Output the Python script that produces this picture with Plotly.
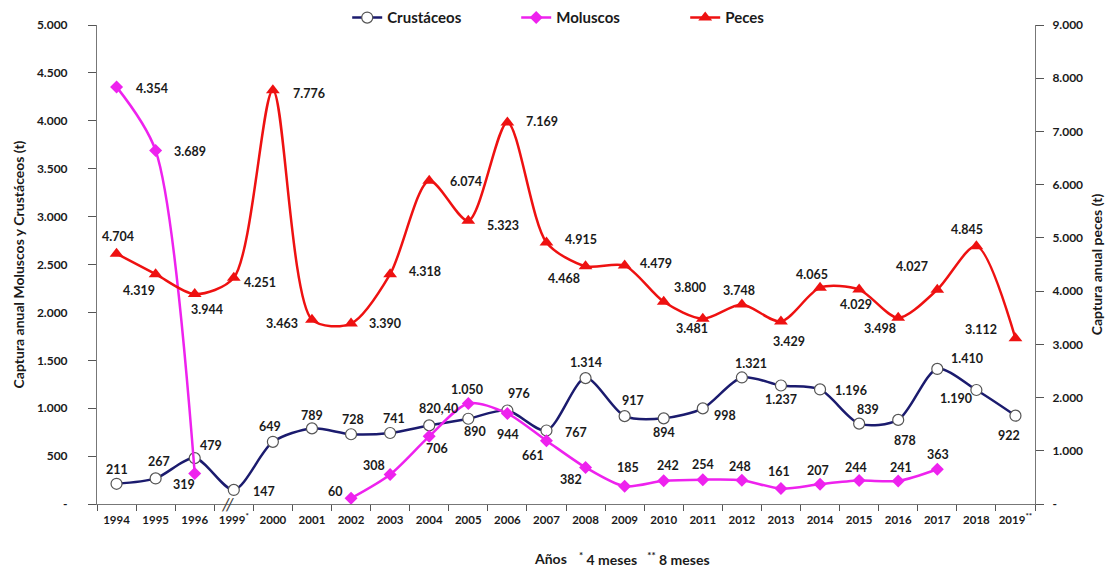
import plotly.graph_objects as go

years = ["1994", "1995", "1996", "1999<sup>*</sup>", "2000", "2001", "2002", "2003", "2004",
         "2005", "2006", "2007", "2008", "2009", "2010", "2011", "2012", "2013", "2014",
         "2015", "2016", "2017", "2018", "2019<sup>**</sup>"]

crustaceos = [211, 267, 479, 147, 649, 789, 728, 741, 820.40, 890, 976, 767, 1314, 917,
              894, 998, 1321, 1237, 1196, 839, 878, 1410, 1190, 922]
moluscos = [4354, 3689, 319, None, None, None, 60, 308, 706, 1050, 944, 661, 382, 185,
            242, 254, 248, 161, 207, 244, 241, 363, None, None]
peces = [4704, 4319, 3944, 4251, 7776, 3463, 3390, 4318, 6074, 5323, 7169, 4915, 4468,
         4479, 3800, 3481, 3748, 3429, 4065, 4029, 3498, 4027, 4845, 3112]

left_ticks = [0, 500, 1000, 1500, 2000, 2500, 3000, 3500, 4000, 4500, 5000]
right_ticks = [0, 1000, 2000, 3000, 4000, 5000, 6000, 7000, 8000, 9000]

# label offsets in pixels (dx right, dy down) of the label centre from its point
crus_off = [(0, -14), (3, -17), (16, -13), (30, 2), (-3, -15), (0, -13), (2, -15), (4, -15),
            (9, -17), (7, 13), (12, -17), (30, 2), (0, -16), (8, -16), (0, 14), (22, 7),
            (9, -14), (0, 14), (31, 1), (9, -14), (7, 21), (30, -10), (-20, 8), (-6, 20)]
mol_off = [(35, 2), (34, 1), (-11, 11), None, None, None, (-16, -7), (-16, -9),
           (8, 12), (-1, -14), (1, 21), (-13, 15), (-15, 12), (3, -19), (4, -15), (0, -15),
           (-2, -14), (-2, -17), (-2, -14), (-3, -13), (3, -13), (1, -15), None, None]
pec_off = [(1, -17), (-17, 16), (12, 15), (26, 5), (36, 3), (-30, 4), (34, 0), (35, -3),
           (37, 1), (35, 5), (35, -1), (35, -3), (-22, 12), (31, -2), (26, -14), (-11, 10),
           (-3, -14), (8, 20), (-8, -13), (-3, 15), (-18, 11), (-25, -23), (-9, -17), (-34, -9)]


def fmt(v):
    if v is None:
        return ""
    if v == 0:
        return "-"
    if float(v).is_integer():
        return f"{int(v):,}".replace(",", ".")
    return f"{v:.2f}".replace(".", ",")


FONT = "Lato"
lab_font = dict(family=FONT, size=12.5, color="#1a1a1a", weight="bold")

fig = go.Figure()
fig.add_trace(go.Scatter(
    x=years, y=crustaceos, name="Crustáceos", mode="lines+markers",
    line=dict(color="#1b1b6e", width=2.5, shape="spline", smoothing=0.8),
    marker=dict(symbol="circle", size=11, color="white", line=dict(color="#555555", width=1.2)),
))
fig.add_trace(go.Scatter(
    x=years, y=moluscos, name="Moluscos", mode="lines+markers",
    line=dict(color="#ee22ee", width=2.5, shape="spline", smoothing=0.8),
    marker=dict(symbol="diamond", size=10, color="#ee22ee"),
    connectgaps=False,
))
fig.add_trace(go.Scatter(
    x=years, y=peces, name="Peces", mode="lines+markers", yaxis="y2",
    line=dict(color="#ee1111", width=2.5, shape="spline", smoothing=0.8),
    marker=dict(symbol="triangle-up", size=12, color="#ee1111"),
))

# category axis: annotations are placed by category index
for series, offs, yref in [(crustaceos, crus_off, "y"), (moluscos, mol_off, "y"),
                           (peces, pec_off, "y2")]:
    for i, (v, off) in enumerate(zip(series, offs)):
        if v is None or off is None:
            continue
        fig.add_annotation(x=i, y=v, xref="x", yref=yref, text=fmt(v), showarrow=False,
                           xanchor="center", yanchor="middle", xshift=off[0], yshift=-off[1],
                           font=lab_font)

axis_font = dict(family=FONT, size=12, color="#1a1a1a", weight="bold")

fig.update_layout(
    width=1110, height=563,
    margin=dict(l=89, r=83, t=17, b=67, autoexpand=False),
    paper_bgcolor="white", plot_bgcolor="white",
    font=dict(family=FONT, color="#1a1a1a"),
    showlegend=True,
    legend=dict(orientation="h", x=0.537, xanchor="center", y=1.015, yanchor="middle",
                font=dict(family=FONT, size=15, color="#1a1a1a", weight="bold"),
                entrywidth=124, bgcolor="rgba(0,0,0,0)", traceorder="normal"),
    xaxis=dict(type="category", range=[-0.5, 23.5], showgrid=False, zeroline=False,
               showline=True, linecolor="#777777", linewidth=1,
               ticks="outside", tickson="boundaries", ticklen=6, tickcolor="#555555",
               ticklabelstandoff=5,
               tickangle=0, tickfont=dict(family=FONT, size=11.5, color="#1a1a1a", weight="bold")),
    yaxis=dict(range=[0, 5000], tickvals=left_ticks, ticktext=[fmt(v) for v in left_ticks],
               showgrid=False, zeroline=False, showline=True, linecolor="#777777", linewidth=1,
               ticks="outside", ticklen=8, tickcolor="#555555", tickfont=axis_font,
               ticklabelstandoff=18,
               title=dict(text="Captura anual Moluscos y Crustáceos (t)", standoff=8,
                          font=dict(family=FONT, size=14, color="#1a1a1a", weight="bold"))),
    yaxis2=dict(range=[0, 9000], tickvals=right_ticks, ticktext=[fmt(v) for v in right_ticks],
                overlaying="y", side="right", showgrid=False, zeroline=False,
                showline=True, linecolor="#777777", linewidth=1,
                ticks="outside", ticklen=8, tickcolor="#555555", tickfont=axis_font,
                ticklabelstandoff=6,
                title=dict(text="Captura anual peces (t)", standoff=10,
                           font=dict(family=FONT, size=14, color="#1a1a1a", weight="bold"))),
)

fig.add_annotation(xref="paper", yref="paper", x=0.483, y=-0.113, xanchor="center",
                   yanchor="middle", showarrow=False, text="Años",
                   font=dict(family=FONT, size=14, color="#1a1a1a", weight="bold"))
fig.add_annotation(xref="paper", yref="paper", x=0.512, y=-0.113, xanchor="left",
                   yanchor="middle", showarrow=False,
                   text="<sup>*</sup> 4 meses   <sup>**</sup> 8 meses",
                   font=dict(family=FONT, size=14, color="#1a1a1a", weight="bold"))
fig.add_annotation(x=2.85, y=0, xref="x", yref="y", yanchor="middle", showarrow=False,
                   text="<i>//</i>", font=dict(family=FONT, size=18, color="#444444"))

fig.write_html("out.html")
